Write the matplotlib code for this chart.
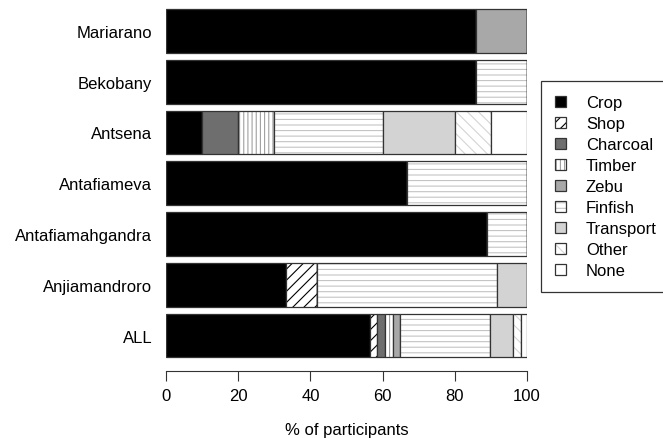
import matplotlib
matplotlib.use("Agg")
import matplotlib.pyplot as plt
from matplotlib.patches import Patch
from matplotlib.legend_handler import HandlerTuple
import numpy as np

plt.rcParams['font.family'] = ['Liberation Sans', 'DejaVu Sans']
plt.rcParams['hatch.linewidth'] = 0.8

sites = ["Mariarano", "Bekobany", "Antsena", "Antafiameva",
         "Antafiamahgandra", "Anjiamandroro", "ALL"]
categories = ["Crop", "Shop", "Charcoal", "Timber", "Zebu",
              "Finfish", "Transport", "Other", "None"]

crop      = [86.0, 86.0, 10.0, 66.7, 88.9, 33.3, 56.5]
shop      = [0.0, 0.0, 0.0, 0.0, 0.0, 8.4, 2.0]
charcoal  = [0.0, 0.0, 10.0, 0.0, 0.0, 0.0, 2.2]
timber    = [0.0, 0.0, 10.0, 0.0, 0.0, 0.0, 2.1]
zebu      = [14.0, 0.0, 0.0, 0.0, 0.0, 0.0, 2.1]
finfish   = [0.0, 14.0, 30.0, 33.3, 11.1, 50.0, 24.9]
transport = [0.0, 0.0, 20.0, 0.0, 0.0, 8.3, 6.4]
other     = [0.0, 0.0, 10.0, 0.0, 0.0, 0.0, 2.0]
none      = [0.0, 0.0, 10.0, 0.0, 0.0, 0.0, 1.8]
series = [crop, shop, charcoal, timber, zebu, finfish, transport, other, none]

x_ticks = [0, 20, 40, 60, 80, 100]

# style: (fill, hatch, hatch colour)
styles = [
    ("#000000", None, None),
    ("#ffffff", "///", "#000000"),
    ("#6e6e6e", None, None),
    ("#ffffff", "||||", "#a0a0a0"),
    ("#a8a8a8", None, None),
    ("#ffffff", "---", "#c4c4c4"),
    ("#d3d3d3", None, None),
    ("#ffffff", "\\\\\\", "#d4d4d4"),
    ("#ffffff", None, None),
]
edge = "#333333"

fig = plt.figure(figsize=(6.63, 4.39), dpi=100)
ax = fig.add_axes([166/663, 1-361.9/439, (527-166)/663, (361.9-6.6)/439])

ypos = np.arange(len(sites))[::-1]
left = np.zeros(len(sites))
bh = 0.86
handles = []
for vals, (fc, hatch, hc) in zip(series, styles):
    v = np.array(vals)
    if hatch:
        ax.barh(ypos, v, left=left, height=bh, color=fc, hatch=hatch,
                edgecolor=hc, linewidth=0)
        ax.barh(ypos, v, left=left, height=bh, fill=False,
                edgecolor=edge, linewidth=0.9)
        h = (Patch(facecolor=fc, hatch=hatch, edgecolor=hc, linewidth=0),
             Patch(fill=False, edgecolor=edge, linewidth=0.9))
    else:
        ax.barh(ypos, v, left=left, height=bh, color=fc,
                edgecolor=edge, linewidth=0.9)
        h = (Patch(facecolor=fc, edgecolor=edge, linewidth=0.9),)
    handles.append(h)
    left += v

ax.set_xlim(0, 100)
ax.set_ylim(-0.5, 6.5)
ax.set_yticks(ypos)
ax.set_yticklabels(sites)
ax.tick_params(axis='y', length=0, pad=10, labelsize=12)
ax.set_xticks(x_ticks)
ax.set_xticklabels([str(t) for t in x_ticks])
ax.tick_params(axis='x', length=7.2, width=0.8, pad=5, color="#333333", labelsize=12)
for s in ['top', 'right', 'left']:
    ax.spines[s].set_visible(False)
ax.spines['bottom'].set_position(('outward', 7.2))
ax.spines['bottom'].set_bounds(0, 100)
ax.spines['bottom'].set_color("#333333")
ax.spines['bottom'].set_linewidth(0.8)
ax.set_xlabel("% of participants", fontsize=12, labelpad=14)

leg = fig.legend(handles, categories,
                 handler_map={tuple: HandlerTuple(ndivide=1, pad=0)},
                 loc="upper left", bbox_to_anchor=(541/663, 1-82/439),
                 borderaxespad=0, fontsize=12, frameon=True, fancybox=False,
                 handlelength=0.65, handleheight=0.65, handletextpad=1.2,
                 labelspacing=0.36, borderpad=0.85)
leg.get_frame().set_edgecolor("#000000")
leg.get_frame().set_linewidth(0.9)

fig.savefig("out.png", dpi=100)
